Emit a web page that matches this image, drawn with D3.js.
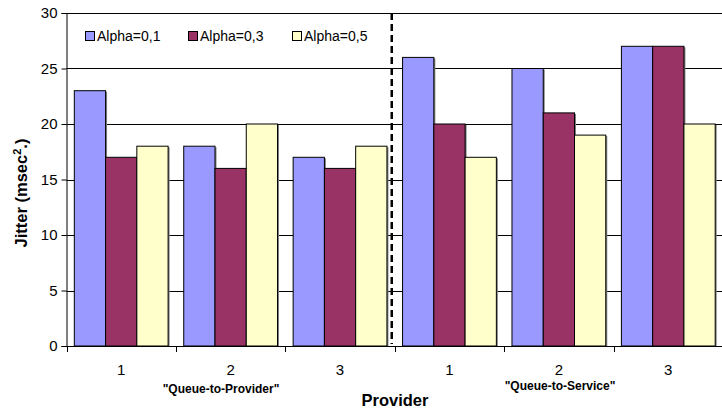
<!DOCTYPE html>
<html>
<head>
<meta charset="utf-8">
<script src="https://cdn.jsdelivr.net/npm/d3@7/dist/d3.min.js"></script>
<style>
  html, body { margin: 0; padding: 0; background: #fff; }
  svg { display: block; font-family: "Liberation Sans", Arial, sans-serif; }
</style>
</head>
<body>
<svg id="chart" width="722" height="412"></svg>
<script>
// Providers along the x axis, two policy groups of three each
const categories = ["QtP-1", "QtP-2", "QtP-3", "QtS-1", "QtS-2", "QtS-3"];
const categoryLabels = ["1", "2", "3", "1", "2", "3"];
const seriesNames = ["Alpha=0,1", "Alpha=0,3", "Alpha=0,5"];
const alpha01 = [23, 18, 17, 26, 25, 27];
const alpha03 = [17, 16, 16, 20, 21, 27];
const alpha05 = [18, 20, 18, 17, 19, 20];
const yTicks = [0, 5, 10, 15, 20, 25, 30];
const groupLabels = ["\"Queue-to-Provider\"", "\"Queue-to-Service\""];
const colors = ["#9999FF", "#993366", "#FFFFCC"];

const seriesValues = [alpha01, alpha03, alpha05];

const svg = d3.select("#chart");
const plotLeft = 66.5, plotRight = 723, plotTop = 13, plotBottom = 346;

const x = d3.scaleBand().domain(categories).range([plotLeft, plotRight]).paddingInner(0).paddingOuter(0);
const inner = d3.scaleBand().domain(d3.range(seriesNames.length))
  .range([0, x.bandwidth()]).paddingInner(0).paddingOuter(0.25);
const y = d3.scaleLinear().domain([0, 30]).range([plotBottom, plotTop]);

// Horizontal gridlines
svg.append("g").selectAll("line").data(yTicks.filter(d => d > 0)).join("line")
  .attr("x1", plotLeft).attr("x2", plotRight)
  .attr("y1", d => Math.round(y(d)) + 0.5).attr("y2", d => Math.round(y(d)) + 0.5)
  .attr("stroke", "#000").attr("stroke-width", 1);

// Bars, with a soft grey drop edge on the right
const groups = svg.append("g").selectAll("g").data(categories).join("g")
  .attr("transform", d => `translate(${x(d)},0)`);

seriesValues.forEach((vals, s) => {
  groups.append("rect")
    .attr("x", (d, i) => inner(s) + 1.5)
    .attr("y", (d, i) => y(vals[i]) + 1)
    .attr("width", inner.bandwidth())
    .attr("height", (d, i) => plotBottom - y(vals[i]) - 1)
    .attr("fill", "#808080");
});
seriesValues.forEach((vals, s) => {
  groups.append("rect")
    .attr("x", (d, i) => inner(s))
    .attr("y", (d, i) => y(vals[i]))
    .attr("width", inner.bandwidth())
    .attr("height", (d, i) => plotBottom - y(vals[i]))
    .attr("fill", colors[s])
    .attr("stroke", "#000").attr("stroke-width", 1);
});

// Y axis
const yAxis = d3.axisLeft(y).tickValues(yTicks).tickSize(5).tickPadding(4);
const yg = svg.append("g").attr("transform", `translate(${plotLeft},0)`).call(yAxis);
yg.select(".domain").attr("stroke", "#000");
yg.selectAll(".tick line").attr("stroke", "#000");
yg.selectAll(".tick text").attr("font-size", 15).attr("fill", "#000")
  .attr("font-family", "Liberation Sans, Arial, sans-serif");

// X axis: ticks at category boundaries
const xg = svg.append("g");
xg.append("line").attr("x1", plotLeft).attr("x2", plotRight)
  .attr("y1", plotBottom + 0.5).attr("y2", plotBottom + 0.5).attr("stroke", "#000");
const boundaries = categories.map(c => x(c)).concat([plotRight]);
xg.selectAll("line.tk").data(boundaries).join("line").attr("class", "tk")
  .attr("x1", d => Math.round(d) + 0.5).attr("x2", d => Math.round(d) + 0.5)
  .attr("y1", plotBottom).attr("y2", plotBottom + 6).attr("stroke", "#000");
xg.selectAll("text").data(categories).join("text")
  .attr("x", d => x(d) + x.bandwidth() / 2)
  .attr("y", 375)
  .attr("text-anchor", "middle").attr("font-size", 15)
  .text((d, i) => categoryLabels[i]);

// Divider between the two policy groups
const divX = x(categories[3]) - 3;
svg.append("line").attr("x1", divX).attr("x2", divX).attr("y1", plotTop).attr("y2", plotBottom - 2)
  .attr("stroke", "#000").attr("stroke-width", 2.5).attr("stroke-dasharray", "7,4");

// Group labels
svg.append("text").attr("x", 221).attr("y", 392.5).attr("text-anchor", "middle")
  .attr("font-size", 12).attr("font-weight", "bold").text(groupLabels[0]);
svg.append("text").attr("x", 560).attr("y", 390).attr("text-anchor", "middle")
  .attr("font-size", 12).attr("font-weight", "bold").text(groupLabels[1]);

// Axis titles
svg.append("text").attr("x", 395).attr("y", 406).attr("text-anchor", "middle")
  .attr("font-size", 16.5).attr("font-weight", "bold").text("Provider");
const yt = svg.append("text").attr("transform", "translate(27,193) rotate(-90)")
  .attr("text-anchor", "middle").attr("font-size", 16.5).attr("font-weight", "bold");
yt.append("tspan").text("Jitter (msec");
yt.append("tspan").attr("dy", -6).attr("font-size", 11).text("2");
yt.append("tspan").attr("dy", 6).text(".)");

// Legend
const legendX = [85, 188, 292];
const lg = svg.append("g").selectAll("g").data(seriesNames).join("g")
  .attr("transform", (d, i) => `translate(${legendX[i]},31)`);
lg.append("rect").attr("x", 0.5).attr("y", 0.5).attr("width", 9).attr("height", 9)
  .attr("fill", (d, i) => colors[i]).attr("stroke", "#000");
lg.append("text").attr("x", 12).attr("y", 10).attr("font-size", 14).text(d => d);
</script>
</body>
</html>
